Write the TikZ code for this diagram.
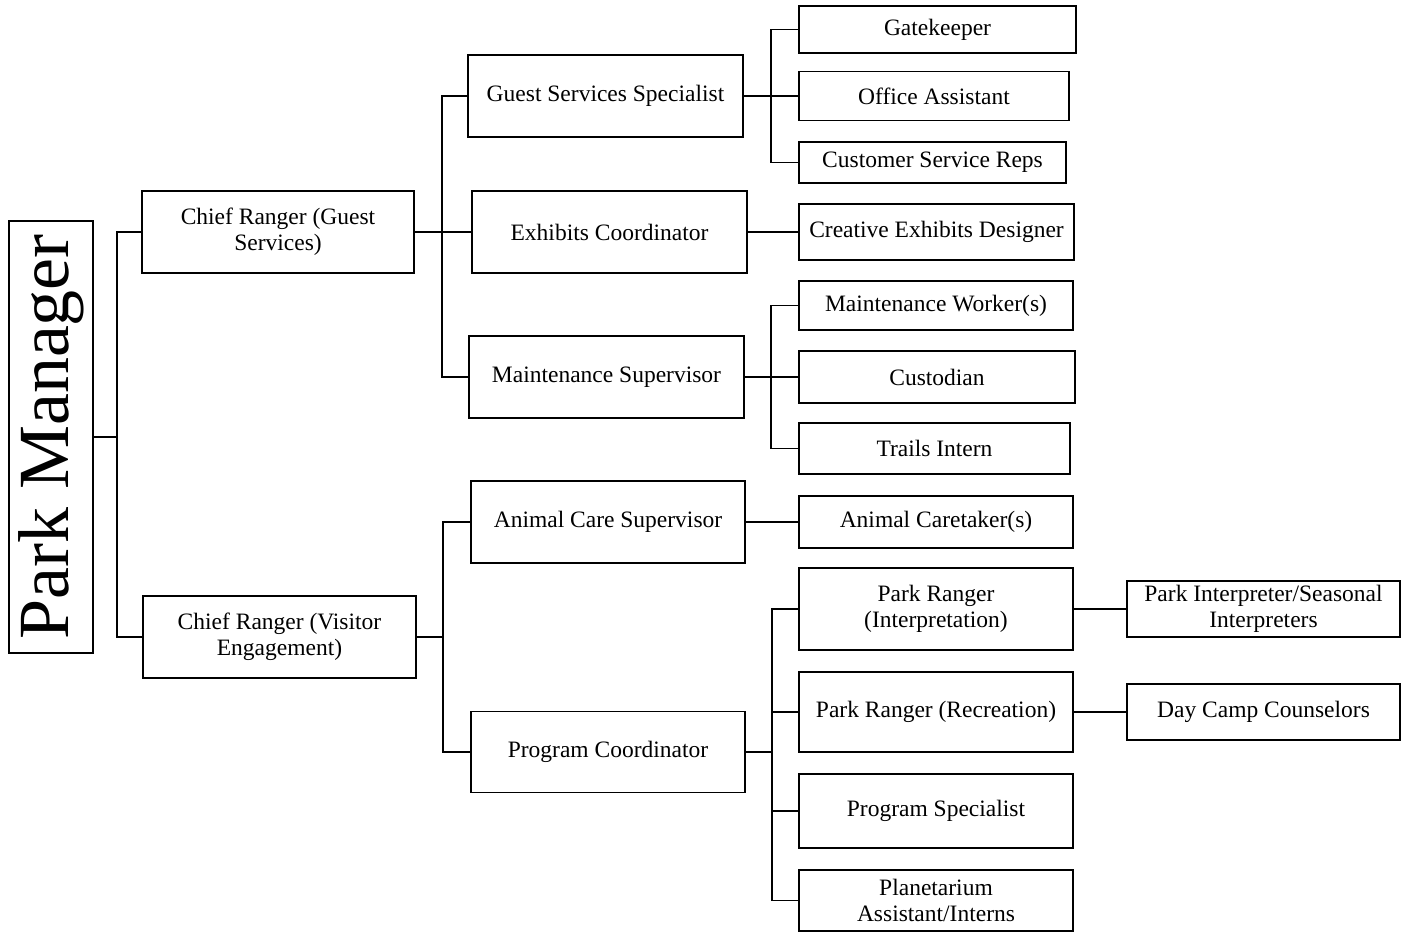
\documentclass[tikz,border=0pt]{standalone}
\usepackage{fontspec}
\setmainfont{Liberation Serif}
\begin{document}
\begin{tikzpicture}[x=1pt,y=-1pt,
  box/.style={draw=black, line width=1.2pt, inner sep=2pt, align=center,
    font=\fontsize{23.5}{26}\selectfont},
  conn/.style={draw=black, line width=1.2pt}]
\useasboundingbox (0,0) rectangle (1405,932);
\node[box, rotate=90, minimum width=432, minimum height=84, font=\fontsize{72}{80}\selectfont] (pm) at (51,437) {Park Manager};
\node[box, minimum width=272, minimum height=82] (crgs) at (278,232) {Chief Ranger (Guest\\Services)};
\node[box, minimum width=273, minimum height=82] (crve) at (279.5,637) {Chief Ranger (Visitor\\Engagement)};
\node[box, minimum width=275, minimum height=82] (gss) at (605.5,96) {Guest Services Specialist};
\node[box, minimum width=275, minimum height=82] (exc) at (609.5,232) {Exhibits Coordinator};
\node[box, minimum width=275, minimum height=82] (ms) at (606.5,377) {Maintenance Supervisor};
\node[box, minimum width=274, minimum height=82] (acs) at (608,522) {Animal Care Supervisor};
\node[box, minimum width=274, minimum height=81] (pc) at (608,752) {Program Coordinator};
\node[box, minimum width=277, minimum height=47] (gk) at (937.5,29.5) {Gatekeeper};
\node[box, minimum width=270, minimum height=49] (oa) at (934,96) {Office Assistant};
\node[box, minimum width=267, minimum height=41] (csr) at (932.5,162.5) {Customer Service Reps};
\node[box, minimum width=275, minimum height=56] (ced) at (936.5,232) {Creative Exhibits Designer};
\node[box, minimum width=274, minimum height=49] (mw) at (936,305.5) {Maintenance Worker(s)};
\node[box, minimum width=276, minimum height=52] (cu) at (937,377) {Custodian};
\node[box, minimum width=271, minimum height=51] (ti) at (934.5,448.5) {Trails Intern};
\node[box, minimum width=274, minimum height=52] (ac) at (936,522) {Animal Caretaker(s)};
\node[box, minimum width=274, minimum height=82] (pri) at (936,609) {Park Ranger\\(Interpretation)};
\node[box, minimum width=274, minimum height=80] (prr) at (936,712) {Park Ranger (Recreation)};
\node[box, minimum width=274, minimum height=74] (ps) at (936,811) {Program Specialist};
\node[box, minimum width=274, minimum height=61] (pa) at (936,900.5) {Planetarium\\Assistant/Interns};
\node[box, minimum width=273, minimum height=56] (pis) at (1263.5,609) {Park Interpreter/Seasonal\\Interpreters};
\node[box, minimum width=273, minimum height=56] (dcc) at (1263.5,712) {Day Camp Counselors};
\coordinate (t1) at (117,437);
\coordinate (t2) at (442,232);
\coordinate (t3) at (443,637);
\coordinate (t4) at (771,96);
\coordinate (t5) at (771,377);
\coordinate (t6) at (772,752);
\draw[conn] (pm.south) -- (t1);
\draw[conn] (crgs.west) -| (t1);
\draw[conn] (crve.west) -| (t1);
\draw[conn] (crgs.east) -- (exc.west);
\draw[conn] (gss.west) -| (t2);
\draw[conn] (ms.west) -| (t2);
\draw[conn] (crve.east) -- (t3);
\draw[conn] (acs.west) -| (t3);
\draw[conn] (pc.west) -| (t3);
\draw[conn] (gss.east) -- (oa.west);
\draw[conn] (gk.west) -| (t4);
\draw[conn] (csr.west) -| (t4);
\draw[conn] (exc.east) -- (ced.west);
\draw[conn] (ms.east) -- (cu.west);
\draw[conn] (mw.west) -| (t5);
\draw[conn] (ti.west) -| (t5);
\draw[conn] (acs.east) -- (ac.west);
\draw[conn] (pc.east) -- (t6);
\draw[conn] (pri.west) -| (t6);
\draw[conn] (prr.west) -| (t6);
\draw[conn] (ps.west) -| (t6);
\draw[conn] (pa.west) -| (t6);
\draw[conn] (pri.east) -- (pis.west);
\draw[conn] (prr.east) -- (dcc.west);
\end{tikzpicture}
\end{document}
